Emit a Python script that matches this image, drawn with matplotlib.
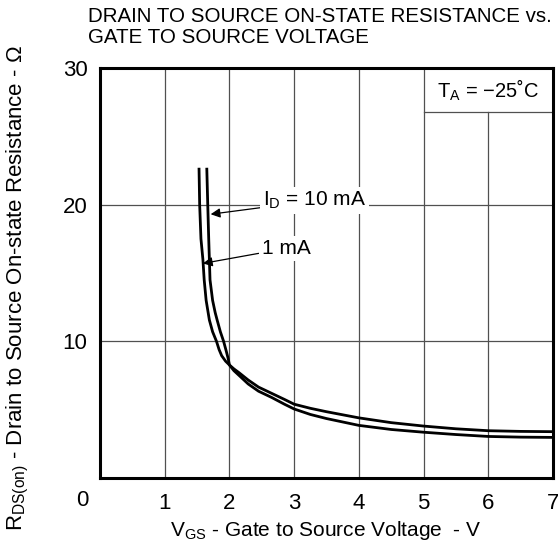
import matplotlib
matplotlib.use("Agg")
import matplotlib.pyplot as plt

plt.rcParams['font.family'] = ['Liberation Sans', 'DejaVu Sans']
plt.rcParams['mathtext.fontset'] = 'custom'
plt.rcParams['mathtext.rm'] = 'Liberation Sans'

# curves (VGS in V, RDS(on) in ohm)
vgs_1ma = [1.53, 1.54, 1.56, 1.59, 1.61, 1.64, 1.69, 1.74, 1.80, 1.84, 1.88, 1.94,
           2.0, 2.07, 2.15, 2.29, 2.45, 2.65, 2.85, 3.0, 3.25, 3.5, 4.0, 4.5, 5.0,
           5.5, 6.0, 6.5, 7.0]
rds_1ma = [22.7, 20.0, 17.5, 16.0, 14.5, 13.0, 11.56, 10.7, 10.0, 9.4, 8.95, 8.55,
           8.27, 7.98, 7.7, 7.17, 6.65, 6.2, 5.75, 5.4, 5.1, 4.85, 4.4, 4.05, 3.8,
           3.6, 3.46, 3.41, 3.39]

vgs_10ma = [1.65, 1.665, 1.68, 1.70, 1.74, 1.78, 1.81, 1.86, 1.91, 1.95, 1.98,
            2.0, 2.07, 2.15, 2.29, 2.45, 2.65, 2.85, 3.0, 3.25, 3.5, 4.0, 4.5, 5.0,
            5.5, 6.0, 6.5, 7.0]
rds_10ma = [22.7, 20.0, 17.5, 14.5, 13.0, 12.1, 11.56, 10.7, 10.0, 9.3, 8.75,
            8.27, 7.85, 7.5, 6.88, 6.35, 5.9, 5.4, 5.05, 4.65, 4.35, 3.85, 3.55, 3.35,
            3.18, 3.04, 2.99, 2.97]

x_ticks = [1, 2, 3, 4, 5, 6, 7]
y_ticks = [10, 20, 30]

fig = plt.figure(figsize=(5.58, 5.46), dpi=100)
# axes frame in pixels: left 100, right 553, top 68, bottom 478
ax = fig.add_axes([100 / 558, 1 - 478 / 546, 453 / 558, 410 / 546])
ax.set_xlim(0, 7)
ax.set_ylim(0, 30)

# grid (the x=6 line stops under the temperature box)
grid_kw = dict(color='#505050', lw=0.9, zorder=1)
for v in [1, 2, 3, 4, 5]:
    ax.plot([v, v], [0, 30], **grid_kw)
ax.plot([6, 6], [0, 26.8], **grid_kw)
for r in [10, 20]:
    ax.plot([0, 7], [r, r], **grid_kw)
ax.plot([5, 7], [26.8, 26.8], **grid_kw)

ax.plot(vgs_1ma, rds_1ma, color='black', lw=2.0, zorder=3,
        solid_capstyle='butt', solid_joinstyle='round')
ax.plot(vgs_10ma, rds_10ma, color='black', lw=2.0, zorder=3,
        solid_capstyle='butt', solid_joinstyle='round')

for s in ax.spines.values():
    s.set_linewidth(2.2)
    s.set_zorder(5)

ax.set_xticks(x_ticks)
ax.set_yticks(y_ticks)
ax.tick_params(length=0, labelsize=16, pad=11)
ax.tick_params(axis='y', pad=9)
ax.text(-0.04, -0.054, '0', transform=ax.transAxes, fontsize=16,
        ha='center', va='center')

# annotations with white boxes that break the grid
bb = dict(boxstyle='square,pad=0.15', fc='white', ec='none')
ax.annotate(r'$\mathregular{I_D}$ = 10 mA', xy=(1.71, 19.3), xytext=(2.52, 20.3),
            fontsize=15, ha='left', va='center', bbox=bb, zorder=4,
            arrowprops=dict(arrowstyle='-|>', color='black', lw=0.9,
                            mutation_scale=14, shrinkA=0, shrinkB=0))
ax.annotate('1 mA', xy=(1.59, 15.7), xytext=(2.5, 16.8),
            fontsize=15, ha='left', va='center', bbox=bb, zorder=4,
            arrowprops=dict(arrowstyle='-|>', color='black', lw=0.9,
                            mutation_scale=14, shrinkA=0, shrinkB=0))

ax.text(6.0, 28.4, r'$\mathregular{T_A}$ = −25˚C', fontsize=14.5,
        ha='center', va='center', zorder=4)

fig.text(88 / 558, 1 - 7 / 546, 'DRAIN TO SOURCE ON-STATE RESISTANCE vs.\nGATE TO SOURCE VOLTAGE',
         fontsize=14.8, ha='left', va='top', linespacing=1.15)
fig.text(326 / 558, 1 - 531 / 546, r'$\mathregular{V_{GS}}$ - Gate to Source Voltage  - V',
         fontsize=15, ha='center', va='center')
fig.text(18 / 558, 1 - 288 / 546,
         r'$\mathregular{R_{DS(on)}}$ - Drain to Source On-state Resistance - Ω',
         fontsize=16, ha='center', va='center', rotation=90)

fig.savefig('out.png', dpi=100)
